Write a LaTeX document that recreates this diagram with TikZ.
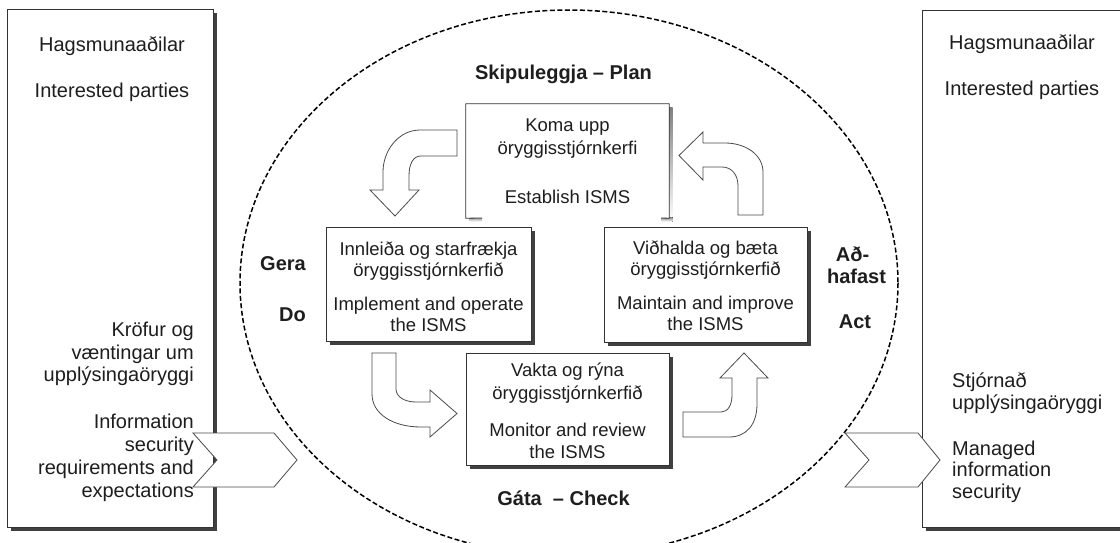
\documentclass[tikz,border=0pt]{standalone}
\usepackage{fontspec}
\setmainfont{Liberation Sans}
\definecolor{ink}{HTML}{1E1E1E}
\definecolor{edge}{HTML}{333333}
\definecolor{shade}{HTML}{404040}
\definecolor{aredge}{HTML}{4A4A4A}
\begin{document}
\begin{tikzpicture}[x=1pt,y=-1pt,
  boxtext/.style={text=ink,inner sep=0pt,align=center},
  sidetext/.style={text=ink,inner sep=0pt,font=\fontsize{20}{23}\selectfont},
  phase/.style={text=ink,inner sep=0pt,font=\fontsize{20}{22}\selectfont\bfseries},
  stepbox/.style={draw=edge,line width=0.8pt,fill=white,inner sep=0pt,
    preaction={fill=shade,transform canvas={xshift=3.5pt,yshift=-3.5pt}}},
  sidebox/.style={draw=edge,line width=0.9pt,fill=white,inner sep=0pt,
    preaction={fill=shade,transform canvas={xshift=3.5pt,yshift=-3.5pt}}},
  blockarrow/.style={draw=aredge,line width=0.8pt,fill=white,line join=miter},
  cycleline/.style={draw=black,line width=1.5pt,dash pattern=on 5pt off 2.5pt}
]
\useasboundingbox (0,0) rectangle (1120,542);
\clip (0,0) rectangle (1120,542);

% dashed PDCA cycle
\draw[cycleline] (569,283) ellipse [x radius=329, y radius=273];

% side boxes
\node[sidebox,minimum width=206pt,minimum height=518pt] (lbox) at (110,268) {};
\node[sidebox,minimum width=218pt,minimum height=517pt] (rbox) at (1031,268.5) {};

% top box (bottom edge only visible at corners)
\fill[shade] (669,107.5) rectangle (672.5,221.5);
\fill[shade] (469.5,217) rectangle (482,221.5);
\fill[shade] (661,217) rectangle (672.5,221.5);
\node[fill=white,inner sep=0pt,minimum width=203pt,minimum height=114pt] (plan) at (567.5,161) {};
\draw[edge,line width=0.8pt] (482,218) -- (plan.south west) -- (plan.north west) -- (plan.north east) -- (plan.south east) -- (661,218);

% process boxes
\node[stepbox,minimum width=205pt,minimum height=114pt] (do) at (428.5,284) {};
\node[stepbox,minimum width=203pt,minimum height=115pt] (act) at (705.5,284.5) {};
\node[stepbox,minimum width=203pt,minimum height=112pt] (check) at (567.5,409) {};

% box texts
\node[boxtext,anchor=north,font=\fontsize{18.5}{23}\selectfont] (planT) at (567.5,118.7)
  {Koma upp\\öryggisstjórnkerfi\\[26pt]Establish ISMS};
\node[boxtext,anchor=north,font=\fontsize{18.5}{21.5}\selectfont] (doT) at (428.5,241.3)
  {Innleiða og starfrækja\\öryggisstjórnkerfið\\[12pt]Implement and operate\\the ISMS};
\node[boxtext,anchor=north,font=\fontsize{18.5}{21.5}\selectfont] (actT) at (705.5,240.3)
  {Viðhalda og bæta\\öryggisstjórnkerfið\\[12pt]Maintain and improve\\the ISMS};
\node[boxtext,anchor=north,font=\fontsize{18.5}{22.5}\selectfont] (checkT) at (567.5,362.7)
  {Vakta og rýna\\öryggisstjórnkerfið\\[14.5pt]Monitor and review\\the ISMS};

% block arrows
\path[blockarrow] (457,130) -- (420,130) .. controls (399,130) and (383,150) .. (383,172)
  -- (383,190) -- (370,190) -- (395,216) -- (419,190) -- (409,190) -- (409,176)
  .. controls (409,164) and (413,156) .. (421,156) -- (457,156) -- cycle;
\path[blockarrow] (738,215) -- (763,215) -- (763,172) .. controls (763,155) and (746,143) .. (725,143)
  -- (703,143) -- (703,132) -- (679,155.5) -- (703,180) -- (703,167) -- (722,167)
  .. controls (732,167) and (738,175) .. (738,186) -- cycle;
\path[blockarrow] (372,353) -- (396,353) -- (396,389) .. controls (396,397) and (405,402) .. (416,402)
  -- (430,402) -- (430,390) -- (457,413.5) -- (430,437) -- (430,427) -- (421,427)
  .. controls (393,427) and (372,414) .. (372,394) -- cycle;
\path[blockarrow] (683,412) -- (721,412) .. controls (728,412) and (732,405) .. (732,395)
  -- (732,378) -- (720,378) -- (744,353) -- (768,378) -- (757,378) -- (757,404)
  .. controls (757,425) and (746,437) .. (729,437) -- (683,437) -- cycle;

% chevrons
\path[blockarrow] (193,433) -- (274,433) -- (297,460) -- (274,487) -- (193,487) -- (217,460) -- cycle;
\path[blockarrow] (845,433) -- (918,433) -- (940,460) -- (918,487) -- (845,487) -- (869,460) -- cycle;

% side texts
\node[sidetext,anchor=base] (lh1) at (112,51) {Hagsmunaaðilar};
\node[sidetext,anchor=base] (lh2) at (112,97) {Interested parties};
\node[sidetext,anchor=base] (rh1) at (1022,49) {Hagsmunaaðilar};
\node[sidetext,anchor=base] (rh2) at (1022,95) {Interested parties};
\node[sidetext,anchor=north east,align=right,font=\fontsize{20}{22.5}\selectfont] (lreq) at (194,322.3)
  {Kröfur og\\væntingar um\\upplýsingaöryggi};
\node[sidetext,anchor=north east,align=right] (lreqE) at (194,413.3)
  {Information\\security\\requirements and\\expectations};
\node[sidetext,anchor=north west,align=left,font=\fontsize{20}{21.5}\selectfont] (rman) at (952,372.6)
  {Stjórnað\\upplýsingaöryggi};
\node[sidetext,anchor=north west,align=left,font=\fontsize{20}{21.5}\selectfont] (rmanE) at (952,440.5)
  {Managed\\information\\security};

% phase labels
\node[phase,anchor=base] (pPlan) at (563.5,79) {Skipuleggja – Plan};
\node[phase,anchor=base] (pCheck) at (563.5,505) {Gáta\ \ – Check};
\node[phase,anchor=base east] (pGera) at (306,270) {Gera};
\node[phase,anchor=base east] (pDo) at (306,321.5) {Do};
\node[phase,anchor=base] (pAd) at (852.5,261.7) {Að-};
\node[phase,anchor=base] (pHaf) at (856.5,283.3) {hafast};
\node[phase,anchor=base] (pAct) at (855,328.3) {Act};
\end{tikzpicture}
\end{document}
